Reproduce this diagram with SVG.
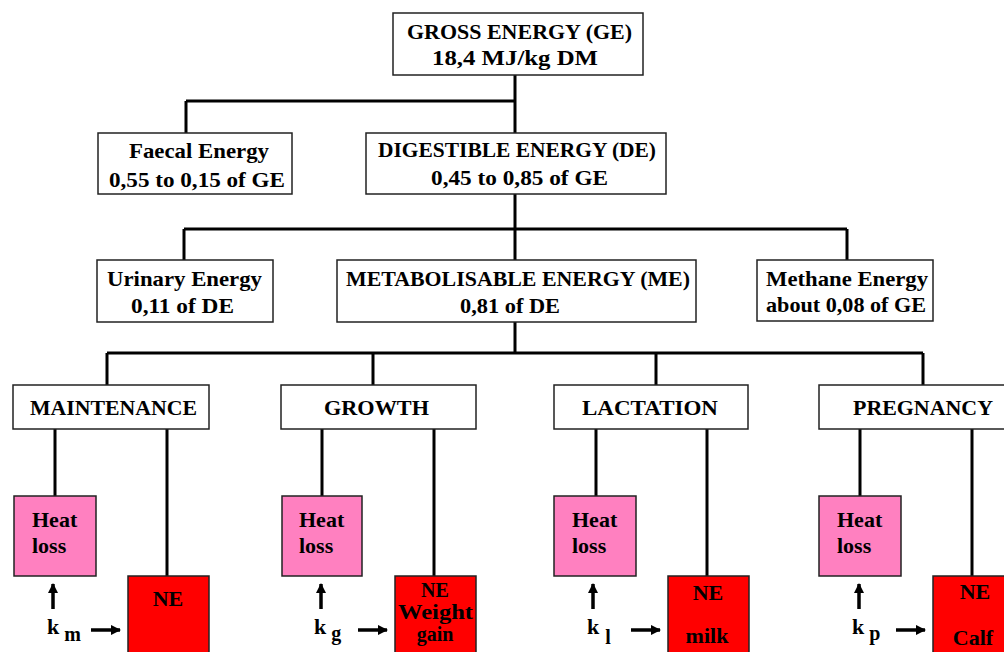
<svg xmlns="http://www.w3.org/2000/svg" width="1004" height="652" viewBox="0 0 1004 652">
<defs>
<style>
text{font-family:'Liberation Serif','DejaVu Serif',serif;font-weight:bold;font-size:22px;fill:#000}
.box{fill:#fff;stroke:#222;stroke-width:1.5}
.heat{fill:#ff80c0;stroke:#222;stroke-width:1.5}
.ne{fill:#ff0000;stroke:#222;stroke-width:1.5}
.con{fill:none;stroke:#000;stroke-width:3}
.arr{fill:none;stroke:#000;stroke-width:3.5}
.sub{font-size:20px}
.small{font-size:20px}
</style>
<marker id="ah" viewBox="0 0 10 10" refX="9" refY="5" markerWidth="3" markerHeight="3" orient="auto" markerUnits="strokeWidth">
<path d="M0,0 L10,5 L0,10 Z" fill="#000"/>
</marker>
</defs>
<rect width="1004" height="652" fill="#fff"/>
<g id="connectors">
<path class="con" d="M515,75 V101 M186,101 H515 M186,101 V133 M515,101 V133"/>
<path class="con" d="M515,194 V229 M184,229 H847 M184,229 V260 M515,229 V260 M847,229 V260"/>
<path class="con" d="M515,322 V353 M107,353 H923 M107,353 V385 M373,353 V385 M656,353 V385 M923,353 V385"/>
<path class="con" d="M55,429 V496 M167,429 V576 M322,429 V496 M434,429 V576 M596,429 V496 M707,429 V576 M860,429 V496 M972,429 V576"/>
<path class="arr" marker-end="url(#ah)" d="M53,609 V584"/>
<path class="arr" marker-end="url(#ah)" d="M91,630 H120"/>
<path class="arr" marker-end="url(#ah)" d="M321,609 V584"/>
<path class="arr" marker-end="url(#ah)" d="M358,630 H387"/>
<path class="arr" marker-end="url(#ah)" d="M593,609 V584"/>
<path class="arr" marker-end="url(#ah)" d="M631,630 H660"/>
<path class="arr" marker-end="url(#ah)" d="M859,609 V584"/>
<path class="arr" marker-end="url(#ah)" d="M896,630 H925"/>
</g>
<g id="ge">
<rect class="box" x="393" y="13" width="250" height="62"/>
<text x="407" y="39" textLength="225" lengthAdjust="spacingAndGlyphs">GROSS ENERGY (GE)</text>
<text x="432" y="65" textLength="166" lengthAdjust="spacingAndGlyphs">18,4 MJ/kg DM</text>
</g>
<g id="faecal">
<rect class="box" x="98" y="133" width="194" height="61"/>
<text x="129" y="158" textLength="140" lengthAdjust="spacingAndGlyphs">Faecal Energy</text>
<text x="109" y="187" textLength="176" lengthAdjust="spacingAndGlyphs">0,55 to 0,15 of GE</text>
</g>
<g id="de">
<rect class="box" x="366" y="133" width="300" height="61"/>
<text x="378" y="157" textLength="278" lengthAdjust="spacingAndGlyphs">DIGESTIBLE ENERGY (DE)</text>
<text x="431" y="185" textLength="177" lengthAdjust="spacingAndGlyphs">0,45 to 0,85 of GE</text>
</g>
<g id="urinary">
<rect class="box" x="97" y="260" width="176" height="62"/>
<text x="107" y="286" textLength="155" lengthAdjust="spacingAndGlyphs">Urinary Energy</text>
<text x="131" y="313" textLength="103" lengthAdjust="spacingAndGlyphs">0,11 of DE</text>
</g>
<g id="me">
<rect class="box" x="337" y="260" width="359" height="62"/>
<text x="346" y="286" textLength="344" lengthAdjust="spacingAndGlyphs">METABOLISABLE ENERGY (ME)</text>
<text x="460" y="313" textLength="100" lengthAdjust="spacingAndGlyphs">0,81 of DE</text>
</g>
<g id="methane">
<rect class="box" x="757" y="260" width="176" height="61"/>
<text x="766" y="286" textLength="162" lengthAdjust="spacingAndGlyphs">Methane Energy</text>
<text x="766" y="312" textLength="160" lengthAdjust="spacingAndGlyphs">about 0,08 of GE</text>
</g>
<g id="maintenance">
<rect class="box" x="13" y="385" width="196" height="44"/>
<text x="30" y="415" textLength="167" lengthAdjust="spacingAndGlyphs">MAINTENANCE</text>
</g>
<g id="growth">
<rect class="box" x="281" y="385" width="195" height="44"/>
<text x="324" y="415" textLength="105" lengthAdjust="spacingAndGlyphs">GROWTH</text>
</g>
<g id="lactation">
<rect class="box" x="554" y="385" width="194" height="44"/>
<text x="582" y="415" textLength="136" lengthAdjust="spacingAndGlyphs">LACTATION</text>
</g>
<g id="pregnancy">
<rect class="box" x="819" y="385" width="190" height="44"/>
<text x="853" y="415" textLength="140" lengthAdjust="spacingAndGlyphs">PREGNANCY</text>
</g>
<g id="heat-m">
<rect class="heat" x="14" y="496" width="82" height="80"/>
<text x="32" y="527">Heat</text><text x="32" y="553">loss</text>
</g>
<g id="heat-g">
<rect class="heat" x="282" y="496" width="80" height="80"/>
<text x="299" y="527">Heat</text><text x="299" y="553">loss</text>
</g>
<g id="heat-l">
<rect class="heat" x="554" y="496" width="82" height="80"/>
<text x="572" y="527">Heat</text><text x="572" y="553">loss</text>
</g>
<g id="heat-p">
<rect class="heat" x="819" y="496" width="82" height="80"/>
<text x="837" y="527">Heat</text><text x="837" y="553">loss</text>
</g>
<g id="ne-m">
<rect class="ne" x="128" y="576" width="81" height="80"/>
<text x="168" y="606" text-anchor="middle">NE</text>
</g>
<g id="ne-g">
<rect class="ne" x="395" y="576" width="81" height="80"/>
<text class="small" x="435" y="597" text-anchor="middle">NE</text>
<text class="small" x="398" y="619" textLength="75" lengthAdjust="spacingAndGlyphs">Weight</text>
<text class="small" x="435" y="641" text-anchor="middle">gain</text>
</g>
<g id="ne-l">
<rect class="ne" x="668" y="576" width="81" height="80"/>
<text x="708" y="600" text-anchor="middle">NE</text>
<text x="707" y="643" text-anchor="middle">milk</text>
</g>
<g id="ne-p">
<rect class="ne" x="933" y="576" width="81" height="80"/>
<text x="975" y="599" text-anchor="middle">NE</text>
<text x="973" y="645" text-anchor="middle">Calf</text>
</g>
<g id="k-labels">
<text x="47" y="634">k<tspan class="sub" dx="5" dy="7">m</tspan></text>
<text x="314" y="634">k<tspan class="sub" dx="5" dy="6">g</tspan></text>
<text x="587" y="634">k<tspan class="sub" dx="6" dy="10">l</tspan></text>
<text x="852" y="634">k<tspan class="sub" dx="5" dy="6">p</tspan></text>
</g>
</svg>
